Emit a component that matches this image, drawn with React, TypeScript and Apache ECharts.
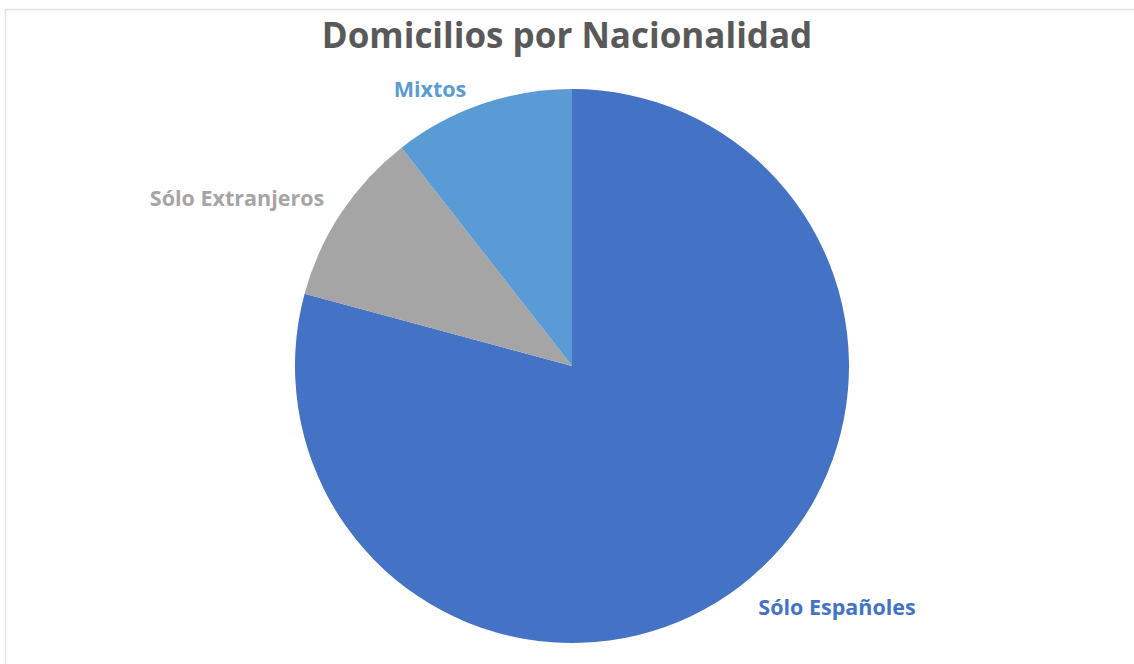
import React, { useEffect, useRef } from "react";
import * as echarts from "echarts";

const titleText = "Domicilios por Nacionalidad";
const categories = ["Sólo Españoles", "Sólo Extranjeros", "Mixtos"];
const values = [79.2, 10.25, 10.55];
const colors = ["#4472C4", "#A5A5A5", "#5B9BD5"];

const labelPos: Record<number, [number, number]> = {
  0: [837, 606],
  1: [237, 197],
  2: [430, 88],
};

export default function App() {
  const ref = useRef<HTMLDivElement>(null);
  useEffect(() => {
    if (!ref.current) return;
    const chart = echarts.init(ref.current, null, { renderer: "svg" });
    chart.setOption({
      animation: false,
      backgroundColor: "#ffffff",
      title: {
        text: titleText,
        left: "center",
        top: 12,
        textStyle: {
          fontFamily: "Open Sans",
          fontWeight: "bold",
          fontSize: 35,
          color: "#595959",
        },
      },
      graphic: [
        {
          type: "rect",
          shape: { x: 5.5, y: 9.5, width: 1200, height: 700 },
          style: { fill: "none", stroke: "#e3e3e3", lineWidth: 1.5 },
          silent: true,
        },
      ],
      series: [
        {
          type: "pie",
          center: [572, 366],
          radius: 277,
          startAngle: 90,
          clockwise: true,
          data: categories.map((c, i) => ({
            name: c,
            value: values[i],
            itemStyle: { color: colors[i] },
            label: { color: colors[i] },
          })),
          itemStyle: { borderWidth: 0 },
          label: {
            show: true,
            position: "outside",
            formatter: "{b}",
            fontFamily: "Open Sans",
            fontWeight: "bold",
            fontSize: 21.5,
          },
          labelLine: { show: false },
          labelLayout: (params: any) => {
            const p = labelPos[params.dataIndex];
            return { x: p[0], y: p[1], align: "center", verticalAlign: "middle" };
          },
        },
      ],
    });
    return () => chart.dispose();
  }, []);
  return (
    <div
      ref={ref}
      style={{ position: "fixed", left: 0, top: 0, width: 1134, height: 664 }}
    />
  );
}
